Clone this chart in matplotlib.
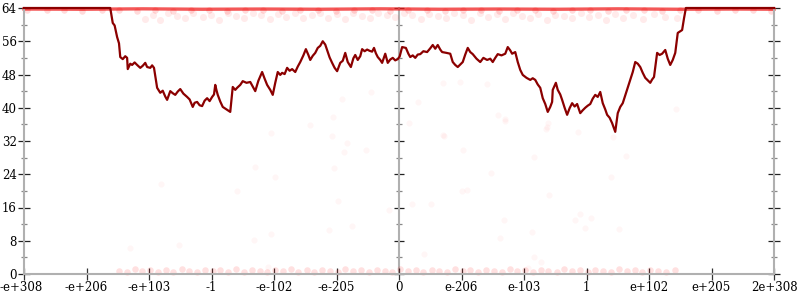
import numpy as np
import matplotlib.pyplot as plt

# x positions are in tick units: 0 = -e+308 ... 6 = 0 ... 12 = 2e+308
tick_labels = ["-e+308", "-e+206", "-e+103", "-1", "-e-102", "-e-205", "0",
               "e-206", "e-103", "1", "e+102", "e+205", "2e+308"]
y_major = [0, 8, 16, 24, 32, 40, 48, 56, 64]
y_minor = [4, 12, 20, 28, 36, 44, 52, 60]

curve = [(0.00, 64), (1.38, 64), (1.42, 60.4), (1.45, 59.8), (1.49, 57.0), (1.52, 55.5),
         (1.54, 52.2), (1.58, 51.7), (1.62, 52.4), (1.65, 52.0), (1.66, 49.3), (1.70, 50.6),
         (1.73, 50.3), (1.77, 50.9), (1.81, 50.3), (1.84, 49.9), (1.86, 49.6), (1.90, 50.1),
         (1.94, 50.8), (1.97, 49.8), (2.02, 49.6), (2.05, 50.2), (2.08, 49.6), (2.13, 44.8),
         (2.18, 43.6), (2.22, 44.1), (2.26, 42.7), (2.29, 41.9), (2.34, 44.0), (2.38, 43.5),
         (2.42, 43.1), (2.46, 43.9), (2.50, 44.5), (2.55, 43.4), (2.61, 42.6), (2.65, 42.0),
         (2.70, 40.2), (2.73, 41.2), (2.77, 41.4), (2.81, 40.6), (2.85, 40.4), (2.89, 41.7),
         (2.93, 42.3), (2.97, 41.6), (3.01, 42.6), (3.04, 43.2), (3.06, 45.5), (3.08, 44.2),
         (3.10, 43.1), (3.14, 41.5), (3.18, 40.2), (3.24, 39.6), (3.30, 39.0), (3.32, 42.0),
         (3.34, 45.0), (3.38, 44.3), (3.41, 44.8), (3.46, 45.5), (3.50, 46.4), (3.56, 46.0),
         (3.62, 46.2), (3.66, 45.1), (3.70, 44.0), (3.75, 46.5), (3.81, 48.6), (3.85, 47.0),
         (3.89, 45.5), (3.94, 44.3), (3.98, 43.1), (4.02, 46.0), (4.06, 48.6), (4.10, 47.9),
         (4.13, 48.4), (4.17, 48.1), (4.21, 49.6), (4.25, 48.9), (4.29, 49.3), (4.34, 48.6),
         (4.38, 49.9), (4.42, 51.0), (4.47, 52.6), (4.51, 54.1), (4.55, 52.7), (4.58, 51.5),
         (4.62, 52.5), (4.66, 53.2), (4.70, 54.4), (4.74, 54.9), (4.78, 56.0), (4.82, 55.2),
         (4.85, 53.9), (4.89, 52.1), (4.93, 50.8), (4.97, 49.6), (5.01, 48.8), (5.06, 50.8),
         (5.10, 51.3), (5.14, 53.2), (5.18, 51.0), (5.23, 49.8), (5.27, 51.9), (5.30, 52.7),
         (5.34, 51.5), (5.38, 52.4), (5.41, 54.1), (5.45, 53.6), (5.49, 54.0), (5.53, 53.7),
         (5.57, 53.5), (5.60, 54.4), (5.63, 53.1), (5.66, 52.2), (5.70, 51.5), (5.73, 50.8),
         (5.78, 53.0), (5.82, 50.8), (5.86, 51.6), (5.90, 52.0), (5.94, 51.4), (5.98, 51.7),
         (6.01, 52.3), (6.05, 54.6), (6.11, 54.4), (6.15, 53.0), (6.18, 52.2), (6.22, 52.6),
         (6.26, 52.0), (6.30, 52.8), (6.34, 52.9), (6.39, 53.6), (6.45, 53.4), (6.50, 54.3),
         (6.54, 55.1), (6.58, 54.2), (6.62, 55.1), (6.66, 54.0), (6.69, 53.4), (6.76, 53.2),
         (6.82, 53.0), (6.86, 51.0), (6.90, 50.3), (6.94, 49.8), (6.98, 50.4), (7.02, 51.0),
         (7.06, 52.8), (7.10, 54.4), (7.14, 53.4), (7.18, 52.9), (7.24, 51.8), (7.30, 51.0),
         (7.35, 52.0), (7.41, 51.5), (7.46, 51.8), (7.50, 51.0), (7.54, 52.0), (7.58, 52.9),
         (7.64, 52.6), (7.70, 53.0), (7.74, 54.6), (7.78, 53.8), (7.81, 53.0), (7.86, 53.4),
         (7.90, 51.0), (7.94, 49.1), (7.98, 47.9), (8.04, 47.2), (8.10, 46.7), (8.14, 47.1),
         (8.18, 46.7), (8.22, 45.6), (8.26, 44.8), (8.30, 42.3), (8.34, 40.9), (8.38, 39.0),
         (8.42, 40.2), (8.45, 41.4), (8.46, 44.3), (8.51, 46.0), (8.54, 44.3), (8.58, 43.2),
         (8.61, 41.9), (8.65, 40.0), (8.69, 38.3), (8.73, 39.9), (8.77, 41.1), (8.81, 40.3),
         (8.85, 40.9), (8.90, 38.7), (8.94, 39.4), (8.98, 40.0), (9.02, 40.5), (9.06, 40.9),
         (9.10, 42.2), (9.14, 43.1), (9.18, 42.6), (9.22, 43.8), (9.26, 41.1), (9.30, 39.6),
         (9.33, 38.3), (9.37, 37.6), (9.41, 36.3), (9.46, 34.2), (9.50, 38.7), (9.54, 40.2),
         (9.58, 41.1), (9.64, 43.9), (9.70, 46.7), (9.74, 48.6), (9.78, 51.0), (9.82, 50.6),
         (9.86, 49.8), (9.90, 48.4), (9.94, 47.2), (9.98, 46.6), (10.02, 46.0), (10.05, 46.8),
         (10.08, 47.4), (10.13, 53.2), (10.17, 52.7), (10.21, 53.0), (10.26, 53.9), (10.30, 51.8),
         (10.34, 50.3), (10.38, 51.5), (10.42, 53.2), (10.46, 58.0), (10.53, 58.7), (10.56, 61.5),
         (10.59, 64), (12.00, 64)]

# dense streak of samples lying on the top edge
top_band = [(0.00, 63.75), (0.95, 63.7), (1.9, 63.8), (2.85, 63.7), (3.8, 63.75), (4.75, 63.7),
            (5.7, 63.8), (6.65, 63.7), (7.6, 63.75), (8.55, 63.7), (9.5, 63.8), (10.45, 63.7),
            (11.4, 63.75), (12.0, 63.7)]

top_haze = [(0.05, 63.4), (0.36, 63.6), (0.64, 63.5), (0.93, 63.3), (1.24, 63.5), (1.52, 63.4),
            (1.81, 63.2), (2.09, 63.5), (2.38, 63.3), (2.67, 63.4), (2.96, 63.5), (3.25, 63.2),
            (3.54, 63.4), (3.83, 63.5), (4.12, 63.3), (4.41, 63.4), (4.70, 63.5), (4.99, 63.2),
            (5.28, 63.4), (5.57, 63.5), (5.86, 63.3), (6.15, 63.4), (6.44, 63.5), (6.73, 63.2),
            (7.02, 63.4), (7.31, 63.5), (7.60, 63.3), (7.89, 63.4), (8.18, 63.5), (8.47, 63.2),
            (8.76, 63.4), (9.05, 63.5), (9.34, 63.3), (9.63, 63.4), (9.92, 63.5), (10.21, 63.2),
            (10.50, 63.4), (10.79, 63.5), (11.08, 63.3), (11.37, 63.4), (11.66, 63.5), (11.95, 63.3)]

upper_band = [(1.93, 61.3), (2.06, 62.4), (2.18, 61.0), (2.30, 62.8), (2.45, 62.0), (2.58, 61.5),
              (2.71, 62.9), (2.86, 61.8), (2.99, 62.4), (3.12, 61.2), (3.26, 62.7), (3.39, 62.1),
              (3.52, 61.6), (3.66, 62.9), (3.79, 62.2), (3.93, 61.4), (4.06, 62.6), (4.19, 61.9),
              (4.33, 62.8), (4.47, 61.5), (4.60, 62.3), (4.73, 62.9), (4.87, 61.7), (5.00, 62.5),
              (5.14, 61.3), (5.27, 62.8), (5.41, 62.0), (5.54, 61.6), (5.67, 62.7), (5.81, 62.2),
              (5.94, 61.8), (6.08, 62.9), (6.21, 62.4), (6.35, 61.4), (6.48, 62.6), (6.62, 62.0),
              (6.75, 61.6), (6.88, 62.8), (7.02, 62.3), (7.15, 61.2), (7.29, 62.7), (7.42, 61.9),
              (7.56, 62.5), (7.69, 61.4), (7.83, 62.9), (7.96, 62.1), (8.10, 61.7), (8.23, 62.6),
              (8.37, 61.2), (8.50, 62.4), (8.64, 62.0), (8.77, 61.5), (8.91, 62.8), (9.04, 61.8),
              (9.18, 62.3), (9.31, 61.1), (9.45, 62.6), (9.58, 61.6), (9.74, 62.2), (9.90, 61.4),
              (10.08, 62.5), (10.25, 61.9), (10.45, 61.5)]

bottom_band = [(1.52, 0.8), (1.64, 0.5), (1.77, 1.1), (1.89, 0.7), (2.02, 0.9), (2.14, 0.4),
               (2.27, 1.0), (2.39, 0.6), (2.52, 1.2), (2.64, 0.8), (2.77, 0.5), (2.89, 1.0),
               (3.02, 0.7), (3.14, 0.9), (3.27, 0.4), (3.39, 1.1), (3.52, 0.6), (3.64, 0.9),
               (3.77, 0.8), (3.89, 0.5), (4.02, 1.0), (4.14, 0.7), (4.27, 1.2), (4.39, 0.6),
               (4.52, 0.9), (4.64, 0.4), (4.77, 1.0), (4.89, 0.8), (5.02, 0.6), (5.14, 1.1),
               (5.27, 0.7), (5.39, 0.9), (5.52, 0.5), (5.64, 1.0), (5.77, 0.8), (5.89, 0.6),
               (6.02, 1.1), (6.14, 0.7), (6.27, 0.9), (6.39, 0.4), (6.52, 1.0), (6.64, 0.8),
               (6.77, 0.6), (6.89, 1.2), (7.02, 0.7), (7.14, 0.9), (7.27, 0.5), (7.39, 1.0),
               (7.52, 0.8), (7.64, 0.6), (7.77, 1.1), (7.89, 0.7), (8.02, 0.9), (8.14, 0.5),
               (8.27, 1.0), (8.39, 0.8), (8.52, 0.6), (8.64, 1.1), (8.77, 0.7), (8.89, 0.9),
               (9.02, 0.4), (9.14, 1.0), (9.27, 0.8), (9.39, 0.6), (9.52, 1.1), (9.64, 0.7),
               (9.77, 0.9), (9.89, 0.5), (10.02, 1.0), (10.14, 0.8), (10.27, 0.6), (10.42, 0.9)]

# odd samples scattered through the middle
sparse = [(4.58, 35.9), (3.95, 33.9), (4.93, 33.2), (5.17, 31.5), (5.12, 29.4), (5.47, 29.8),
          (3.70, 25.7), (4.96, 25.5), (4.02, 23.3), (2.19, 21.7), (3.41, 20.0), (5.02, 17.6),
          (5.84, 15.4), (5.25, 11.5), (4.88, 10.6), (3.95, 9.6), (3.68, 8.2), (2.48, 7.0),
          (1.70, 6.3), (3.90, 1.7), (6.16, 36.3), (7.70, 36.8), (8.38, 36.3), (8.35, 34.9),
          (8.86, 34.2), (6.72, 33.2), (7.02, 29.8), (9.42, 33.0), (8.16, 28.2), (9.63, 28.4),
          (7.47, 24.3), (9.39, 23.3), (7.01, 20.0), (7.09, 20.2), (8.40, 19.0), (6.21, 16.8),
          (6.51, 16.8), (7.68, 13.0), (8.90, 14.4), (9.07, 13.5), (8.82, 13.0), (8.98, 11.1),
          (9.52, 10.8), (8.13, 10.1), (7.62, 8.7), (6.40, 4.8), (8.16, 4.1), (8.27, 2.9),
          (8.06, 1.4), (5.55, 43.8), (5.09, 42.1), (4.94, 37.8), (6.70, 46.0), (6.98, 46.2),
          (7.41, 45.7), (6.30, 41.4), (7.58, 38.3), (7.70, 37.3), (6.70, 33.4), (8.37, 35.4),
          (10.43, 39.7)]

plt.rcParams['font.family'] = 'DejaVu Serif'
gray = '#b0b0b0'

fig = plt.figure(figsize=(8, 3), dpi=100)
pos = [24 / 800, 26 / 300, 750 / 800, 266 / 300]
ax = fig.add_axes(pos)

tx, ty = zip(*top_band)
ax.plot(tx, ty, color='#f02020', lw=2.4, alpha=0.75, zorder=2, clip_on=False)
for pts, alpha, size in [(top_haze, 0.14, 22), (upper_band, 0.08, 26),
                         (bottom_band, 0.12, 22), (sparse, 0.035, 20)]:
    xs, ys = zip(*pts)
    ax.scatter(xs, ys, s=size, color='red', alpha=alpha, linewidths=0, clip_on=False, zorder=2)

cx, cy = zip(*curve)
ax.plot(cx, cy, color='#8b0000', lw=1.6, zorder=3, clip_on=False)

ax.set_xlim(0, 12)
ax.set_ylim(0, 64)
ax.set_xticks(range(13))
# leftmost label is placed by hand so it stays inside the figure
ax.set_xticklabels([""] + tick_labels[1:])
ax.annotate(tick_labels[0], xy=(0, 0), xycoords=('data', 'axes fraction'),
            xytext=(-24, -7), textcoords='offset pixels', ha='left', va='top',
            fontsize=8.5)
ax.set_yticks(y_major)
ax.set_yticks(y_minor, minor=True)

ax.spines['top'].set_visible(False)
for s in ['left', 'right', 'bottom']:
    ax.spines[s].set_color(gray)
    ax.spines[s].set_linewidth(1.5)
ax.tick_params(axis='y', which='major', direction='inout', length=8.5, width=0.9,
               color='#222222', left=True, right=True, labelsize=8.5, pad=1)
ax.tick_params(axis='y', which='minor', direction='inout', length=4.5, width=0.9,
               color='#888888', left=True, right=True)
ax.tick_params(axis='x', which='major', direction='inout', length=8, width=0.9,
               color='#333333', labelsize=8.5, pad=1)

# middle axis at x = 0 with its own ticks
ax2 = fig.add_axes(pos, sharey=ax)
ax2.set_xlim(0, 12)
ax2.patch.set_visible(False)
for s in ['top', 'right', 'bottom']:
    ax2.spines[s].set_visible(False)
ax2.spines['left'].set_position(('data', 6))
ax2.spines['left'].set_color(gray)
ax2.spines['left'].set_linewidth(1.5)
ax2.set_xticks([])
ax2.tick_params(axis='y', which='major', direction='inout', length=7.5, width=0.9,
                color='#222222', labelleft=False)
ax2.tick_params(axis='y', which='minor', direction='inout', length=4.5, width=0.9,
                color='#888888')
ax2.set_zorder(0)
ax.set_zorder(1)
ax.patch.set_visible(False)

fig.savefig('out.png', dpi=100)
